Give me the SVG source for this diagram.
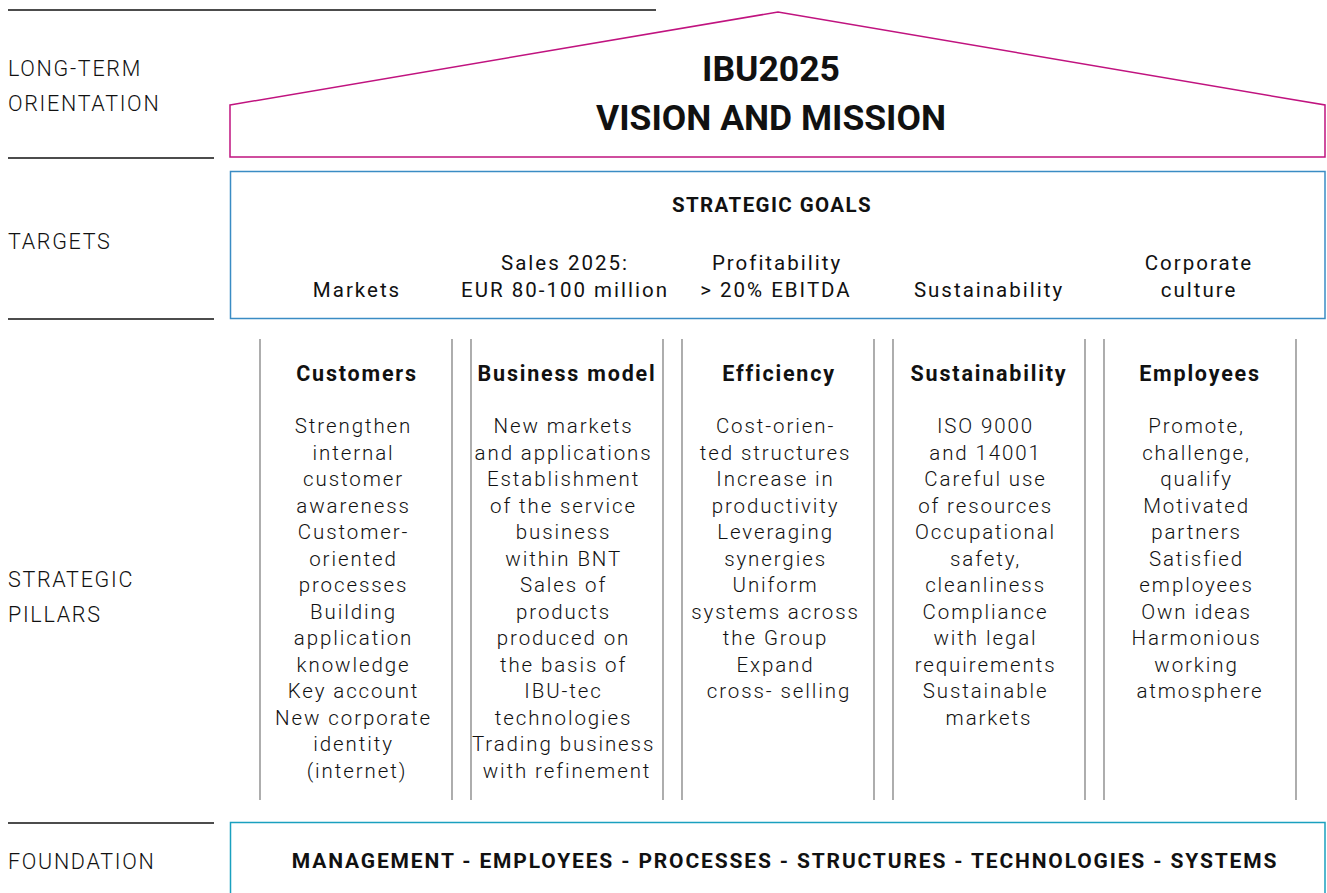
<svg xmlns="http://www.w3.org/2000/svg" width="1327" height="893" viewBox="0 0 1327 893">
<style>
text{font-family:Roboto,"Liberation Sans",sans-serif;fill:#111}
.lbl{font-size:21.5px;font-weight:300;letter-spacing:1.7px}
.title{font-size:35.5px;font-weight:700;text-anchor:middle}
.hd{font-size:20.5px;font-weight:700;text-anchor:middle;letter-spacing:1.4px}
.tg{font-size:20.5px;font-weight:400;text-anchor:middle;letter-spacing:2px}
.ph{font-size:21.5px;font-weight:700;text-anchor:middle;letter-spacing:1.8px}
.pb{font-size:20.5px;font-weight:300;text-anchor:middle;letter-spacing:1.9px}
.fd{font-size:21px;font-weight:700;text-anchor:middle;letter-spacing:1.85px}
.rule{stroke:#111;stroke-width:1.5;fill:none}
.pil{stroke:#777;stroke-width:1.2;fill:none}
</style>
<rect width="1327" height="893" fill="#fff"/>
<g id="rules">
<line class="rule" x1="8" y1="10" x2="656" y2="10"/>
<line class="rule" x1="8" y1="158" x2="214" y2="158"/>
<line class="rule" x1="8" y1="319" x2="214" y2="319"/>
<line class="rule" x1="8" y1="823" x2="214" y2="823"/>
</g>
<g id="labels">
<text class="lbl" x="8" y="76">LONG-TERM</text>
<text class="lbl" x="8" y="111">ORIENTATION</text>
<text class="lbl" x="8" y="249">TARGETS</text>
<text class="lbl" x="8" y="587">STRATEGIC</text>
<text class="lbl" x="8" y="622">PILLARS</text>
<text class="lbl" x="8" y="869">FOUNDATION</text>
</g>
<g id="roof">
<polygon points="230,105 778,12 1325,105 1325,157 230,157" fill="none" stroke="#c0137f" stroke-width="1.5"/>
<text class="title" x="771" y="81">IBU2025</text>
<text class="title" x="771" y="130">VISION AND MISSION</text>
</g>
<g id="targets">
<rect x="230.5" y="171.5" width="1094.5" height="147" fill="none" stroke="#3a8cc4" stroke-width="1.5"/>
<text class="hd" x="772" y="212">STRATEGIC GOALS</text>
<text class="tg" x="357" y="297">Markets</text>
<text class="tg" x="565" y="270">Sales 2025:</text>
<text class="tg" x="565" y="297">EUR 80-100 million</text>
<text class="tg" x="777" y="270">Profitability</text>
<text class="tg" x="776" y="297">&gt; 20% EBITDA</text>
<text class="tg" x="989" y="297">Sustainability</text>
<text class="tg" x="1199" y="270">Corporate</text>
<text class="tg" x="1199" y="297">culture</text>
</g>
<g id="pillar-lines">
<line class="pil" x1="260" y1="339" x2="260" y2="800"/>
<line class="pil" x1="452" y1="339" x2="452" y2="800"/>
<line class="pil" x1="471" y1="339" x2="471" y2="800"/>
<line class="pil" x1="663" y1="339" x2="663" y2="800"/>
<line class="pil" x1="682" y1="339" x2="682" y2="800"/>
<line class="pil" x1="874" y1="339" x2="874" y2="800"/>
<line class="pil" x1="893" y1="339" x2="893" y2="800"/>
<line class="pil" x1="1085" y1="339" x2="1085" y2="800"/>
<line class="pil" x1="1104" y1="339" x2="1104" y2="800"/>
<line class="pil" x1="1296" y1="339" x2="1296" y2="800"/>
</g>
<g id="pillar-customers">
<text class="ph" x="357" y="381">Customers</text>
<text class="pb" x="357" y="433">
<tspan x="357" dy="0">Strengthen</tspan>
<tspan x="357" dy="26.5">internal</tspan>
<tspan x="357" dy="26.5">customer</tspan>
<tspan x="357" dy="26.5">awareness</tspan>
<tspan x="357" dy="26.5">Customer-</tspan>
<tspan x="357" dy="26.5">oriented</tspan>
<tspan x="357" dy="26.5">processes</tspan>
<tspan x="357" dy="26.5">Building</tspan>
<tspan x="357" dy="26.5">application</tspan>
<tspan x="357" dy="26.5">knowledge</tspan>
<tspan x="357" dy="26.5">Key account</tspan>
<tspan x="357" dy="26.5">New corporate</tspan>
<tspan x="357" dy="26.5">identity</tspan>
<tspan x="357" dy="26.5">(internet)</tspan>
</text>
</g>
<g id="pillar-business">
<text class="ph" x="567" y="381">Business model</text>
<text class="pb" x="567" y="433">
<tspan x="567" dy="0">New markets</tspan>
<tspan x="567" dy="26.5">and applications</tspan>
<tspan x="567" dy="26.5">Establishment</tspan>
<tspan x="567" dy="26.5">of the service</tspan>
<tspan x="567" dy="26.5">business</tspan>
<tspan x="567" dy="26.5">within BNT</tspan>
<tspan x="567" dy="26.5">Sales of</tspan>
<tspan x="567" dy="26.5">products</tspan>
<tspan x="567" dy="26.5">produced on</tspan>
<tspan x="567" dy="26.5">the basis of</tspan>
<tspan x="567" dy="26.5">IBU-tec</tspan>
<tspan x="567" dy="26.5">technologies</tspan>
<tspan x="567" dy="26.5">Trading business</tspan>
<tspan x="567" dy="26.5">with refinement</tspan>
</text>
</g>
<g id="pillar-efficiency">
<text class="ph" x="779" y="381">Efficiency</text>
<text class="pb" x="779" y="433">
<tspan x="779" dy="0">Cost-orien-</tspan>
<tspan x="779" dy="26.5">ted structures</tspan>
<tspan x="779" dy="26.5">Increase in</tspan>
<tspan x="779" dy="26.5">productivity</tspan>
<tspan x="779" dy="26.5">Leveraging</tspan>
<tspan x="779" dy="26.5">synergies</tspan>
<tspan x="779" dy="26.5">Uniform</tspan>
<tspan x="779" dy="26.5">systems across</tspan>
<tspan x="779" dy="26.5">the Group</tspan>
<tspan x="779" dy="26.5">Expand</tspan>
<tspan x="779" dy="26.5">cross- selling</tspan>
</text>
</g>
<g id="pillar-sustainability">
<text class="ph" x="989" y="381">Sustainability</text>
<text class="pb" x="989" y="433">
<tspan x="989" dy="0">ISO 9000</tspan>
<tspan x="989" dy="26.5">and 14001</tspan>
<tspan x="989" dy="26.5">Careful use</tspan>
<tspan x="989" dy="26.5">of resources</tspan>
<tspan x="989" dy="26.5">Occupational</tspan>
<tspan x="989" dy="26.5">safety,</tspan>
<tspan x="989" dy="26.5">cleanliness</tspan>
<tspan x="989" dy="26.5">Compliance</tspan>
<tspan x="989" dy="26.5">with legal</tspan>
<tspan x="989" dy="26.5">requirements</tspan>
<tspan x="989" dy="26.5">Sustainable</tspan>
<tspan x="989" dy="26.5">markets</tspan>
</text>
</g>
<g id="pillar-employees">
<text class="ph" x="1200" y="381">Employees</text>
<text class="pb" x="1200" y="433">
<tspan x="1200" dy="0">Promote,</tspan>
<tspan x="1200" dy="26.5">challenge,</tspan>
<tspan x="1200" dy="26.5">qualify</tspan>
<tspan x="1200" dy="26.5">Motivated</tspan>
<tspan x="1200" dy="26.5">partners</tspan>
<tspan x="1200" dy="26.5">Satisfied</tspan>
<tspan x="1200" dy="26.5">employees</tspan>
<tspan x="1200" dy="26.5">Own ideas</tspan>
<tspan x="1200" dy="26.5">Harmonious</tspan>
<tspan x="1200" dy="26.5">working</tspan>
<tspan x="1200" dy="26.5">atmosphere</tspan>
</text>
</g>
<g id="foundation">
<path d="M230.5,893 V822.5 H1325 V893" fill="none" stroke="#1aa0bf" stroke-width="1.5"/>
<text class="fd" x="785" y="868">MANAGEMENT - EMPLOYEES - PROCESSES - STRUCTURES - TECHNOLOGIES - SYSTEMS</text>
</g>
</svg>
